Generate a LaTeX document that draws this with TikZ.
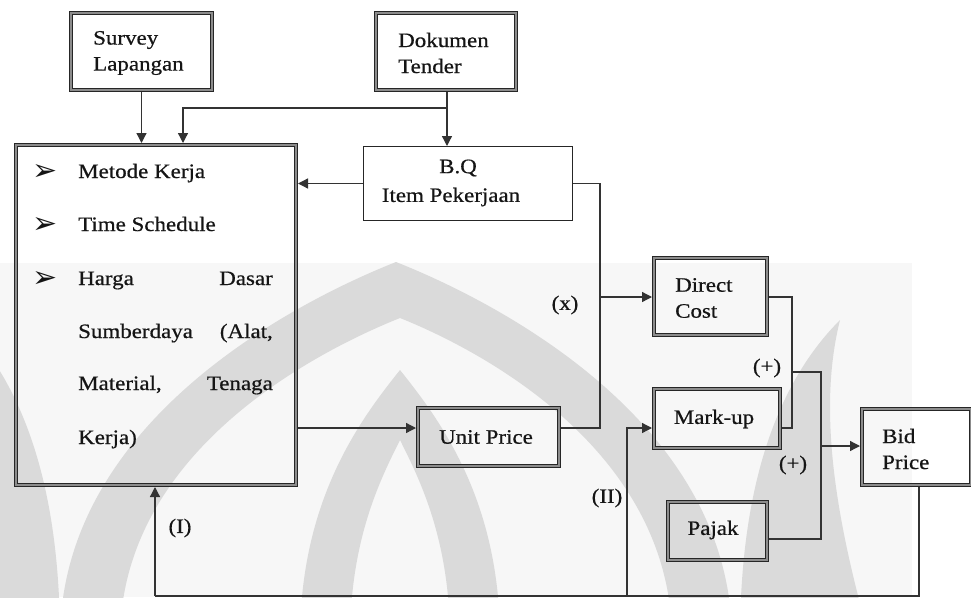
\documentclass[tikz,border=0pt]{standalone}
\usepackage{fontspec}
\setmainfont{Liberation Serif}[FakeStretch=1.12, FakeBold=0.6]
\newfontfamily\symfont{DejaVu Sans}
\usetikzlibrary{arrows.meta}
\definecolor{wm}{HTML}{DADADA}
\definecolor{ink}{HTML}{151515}
\begin{document}
\begin{tikzpicture}[x=1pt,y=-1pt,
  every node/.style={font=\fontsize{20.5}{26}\selectfont, text=ink},
  frame2/.style={draw=black!85, line width=0.9pt, double=black!45,
    double distance=2.4pt, inner sep=0pt, outer sep=2pt},
  frame1/.style={draw=black!85, line width=1.4pt, inner sep=0pt},
  txt/.style={inner sep=0pt, align=left},
  conn/.style={draw=black!80, line width=1.3pt},
  arr/.style={conn, -{Triangle[length=10pt,width=10pt]}},
  bul/.style={inner sep=0pt, font=\symfont\fontsize{30}{30}\selectfont},
]
\useasboundingbox (0,0) rectangle (971,597);
\clip (0,0) rectangle (971,597);

% faint emblem in the background
\fill[black!3] (0,263) rectangle (912,597);
\fill[wm, even odd rule]
  (60,640) .. controls (60,420) and (300,300) .. (396,262)
           .. controls (492,300) and (732,420) .. (732,640) -- cycle
  (120,640) .. controls (120,450) and (320,350) .. (400,318)
           .. controls (480,350) and (672,450) .. (672,640) -- cycle;
\fill[wm, even odd rule]
  (300,640) .. controls (300,500) and (360,420) .. (400,370)
           .. controls (440,420) and (500,500) .. (500,640) -- cycle
  (350,640) .. controls (350,540) and (380,480) .. (400,440)
           .. controls (420,480) and (450,540) .. (450,640) -- cycle;
\fill[wm] (740,640) .. controls (740,480) and (780,380) .. (840,320)
          .. controls (820,400) and (830,500) .. (870,640) -- cycle;
\fill[wm] (60,640) .. controls (60,480) and (20,380) .. (-40,320)
          .. controls (-20,400) and (-30,500) .. (-70,640) -- cycle;

% boxes
\node[frame2, minimum width=141pt, minimum height=77pt] (survey) at (141.5,51.5) {};
\node[frame2, minimum width=140pt, minimum height=77pt] (dokumen) at (446,51.5) {};
\node[frame2, minimum width=280pt, minimum height=340pt] (bigbox) at (156,315) {};
\node[frame1, minimum width=208.6pt, minimum height=73.6pt] (bq) at (468,183.5) {};
\node[frame2, minimum width=113pt, minimum height=77pt] (direct) at (710.5,296.5) {};
\node[frame2, minimum width=126pt, minimum height=59pt] (markup) at (717,418.5) {};
\node[frame2, minimum width=99pt, minimum height=58pt] (pajak) at (717.5,531) {};
\node[frame2, minimum width=109pt, minimum height=76pt] (bid) at (916.5,447) {};
\node[frame2, minimum width=141pt, minimum height=58pt] (unit) at (488.5,437) {};

% box texts
\node[txt, anchor=west] (survey-t) at (93,53) {Survey\\Lapangan};
\node[txt, anchor=west] (dokumen-t) at (398,53) {Dokumen\\Tender};
\node[txt, align=center] (bq-t1) at (458,168) {B.Q};
\node[txt, align=center] (bq-t2) at (451,197) {Item Pekerjaan};
\node[txt, anchor=west] (direct-t) at (675,298) {Direct\\Cost};
\node[txt] (markup-t) at (714,419) {Mark-up};
\node[txt] (pajak-t) at (713,530) {Pajak};
\node[txt, anchor=west] (bid-t) at (882,449) {Bid\\Price};
\node[txt] (unit-t) at (486,437) {Unit Price};

% list inside the large box
\node[bul] (b1) at (45,172) {➢};
\node[bul] (b2) at (45,225) {➢};
\node[bul] (b3) at (45,279) {➢};
\node[txt, anchor=base west] (l1) at (78,178) {Metode Kerja};
\node[txt, anchor=base west] (l2) at (78,231) {Time Schedule};
\node[txt, anchor=base west] (l3a) at (78,285) {Harga};
\node[txt, anchor=base east] (l3b) at (273,285) {Dasar};
\node[txt, anchor=base west] (l4a) at (78,338) {Sumberdaya};
\node[txt, anchor=base east] (l4b) at (273,338) {(Alat,};
\node[txt, anchor=base west] (l5a) at (78,390) {Material,};
\node[txt, anchor=base east] (l5b) at (273,390) {Tenaga};
\node[txt, anchor=base west] (l6) at (78,444) {Kerja)};

% operator labels
\node[txt] (lx) at (565,305) {(x)};
\node[txt] (lp1) at (767,368) {(+)};
\node[txt] (lp2) at (793,465) {(+)};
\node[txt] (lI) at (180,528) {(I)};
\node[txt] (lII) at (607,498) {(II)};

% routing points
\coordinate (split) at (447,108);
\coordinate (split2) at (183,108);
\coordinate (uy) at (0,428);
\coordinate (xtop) at (600,183.5);
\coordinate (xbot) at (600,428);
\coordinate (xmid) at (600,297);
\coordinate (j1) at (792,297);
\coordinate (j1b) at (792,428);
\coordinate (j1m) at (792,372);
\coordinate (j2) at (821,372);
\coordinate (j2b) at (821,539);
\coordinate (j2m) at (821,446);
\coordinate (fb) at (919,596);
\coordinate (fbI) at (155,596);
\coordinate (fbII) at (627,596);

% connectors
\draw[arr] (survey.south) -- (survey.south |- bigbox.north);
\draw[arr] (dokumen.south -| split) -- (split |- bq.north);
\draw[arr] (split) -- (split2) -- (split2 |- bigbox.north);
\draw[arr] (bq.west) -- (bq.west -| bigbox.east);
\draw[arr] (bigbox.east |- uy) -- (unit.west |- uy);
\draw[conn] (bq.east) -- (xtop) -- (xbot) -- (unit.east |- xbot);
\draw[arr] (xmid) -- (direct.west |- xmid);
\draw[conn] (direct.east |- j1) -- (j1) -- (j1b) -- (markup.east |- j1b);
\draw[conn] (j1m) -- (j2) -- (j2b) -- (pajak.east |- j2b);
\draw[arr] (j2m) -- (bid.west |- j2m);
\draw[conn] (bid.south -| fb) -- (fb) -- (fbI);
\draw[arr] (fbI) -- (fbI |- bigbox.south);
\draw[arr] (fbII) -- (fbII |- uy) -- (markup.west |- uy);
\end{tikzpicture}
\end{document}
